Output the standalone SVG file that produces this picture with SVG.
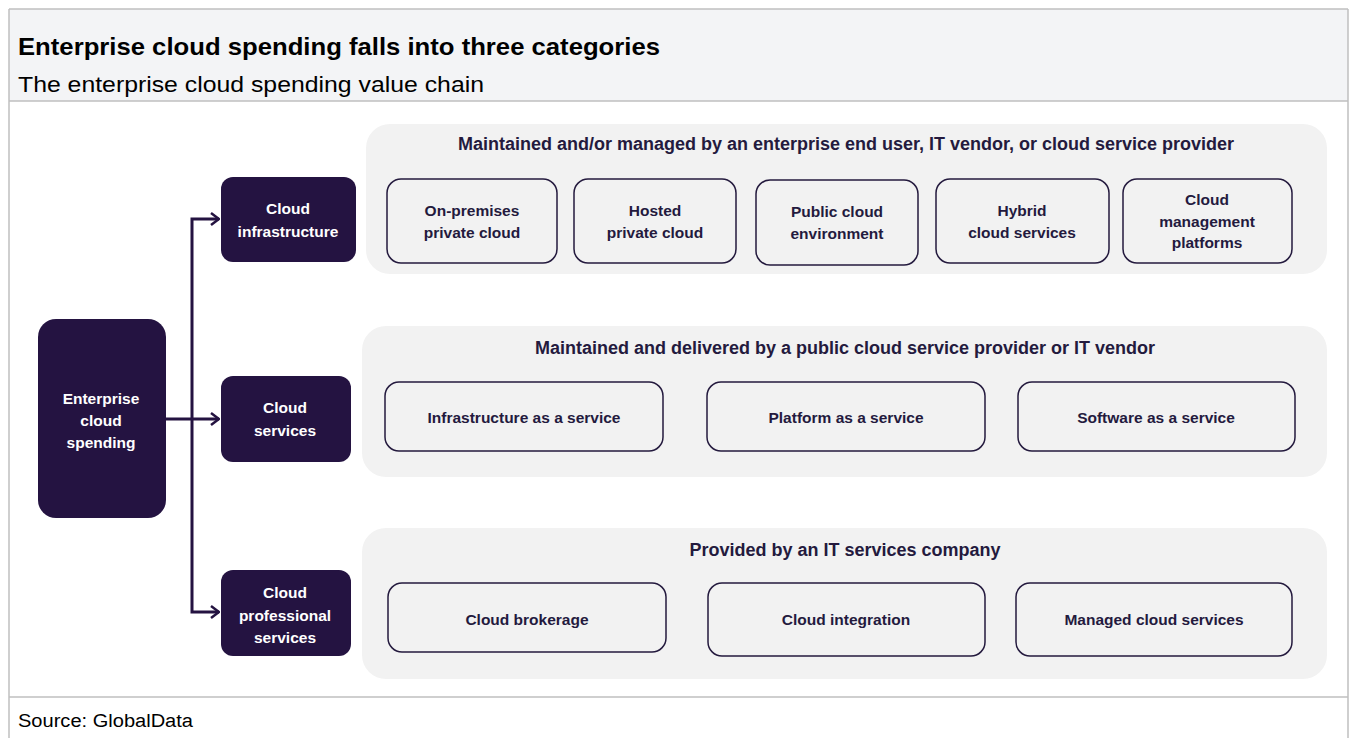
<svg xmlns="http://www.w3.org/2000/svg" width="1354" height="738" viewBox="0 0 1354 738">
<style>
.frame{fill:none;stroke:#bfbfbf;stroke-width:1.5}
.hdr{fill:#f3f4f6}
.title{font-family:"Liberation Sans",Arial,sans-serif;font-weight:bold;font-size:24px;fill:#000}
.sub{font-family:"Liberation Sans",Arial,sans-serif;font-size:22px;fill:#000}
.src{font-family:"Liberation Sans",Arial,sans-serif;font-size:18px;fill:#000}
.dark{fill:#241341}
.wt{font-family:"Liberation Sans",Arial,sans-serif;font-weight:bold;font-size:15.5px;fill:#fff;text-anchor:middle}
.panel{fill:#f2f2f2}
.ptitle{font-family:"Liberation Sans",Arial,sans-serif;font-weight:bold;font-size:18px;fill:#241a3e;text-anchor:middle}
.box{fill:#f2f2f2;stroke:#241a3e;stroke-width:1.5}
.bt{font-family:"Liberation Sans",Arial,sans-serif;font-weight:bold;font-size:15.5px;fill:#241a3e;text-anchor:middle}
.conn{fill:none;stroke:#241341;stroke-width:3}
</style>
<defs>
<marker id="arr" viewBox="0 0 10 14" refX="9" refY="7" markerWidth="10" markerHeight="14" markerUnits="userSpaceOnUse" orient="auto">
<path d="M1,1 L9,7 L1,13" fill="none" stroke="#241341" stroke-width="2.5"/>
</marker>
</defs>
<rect width="1354" height="738" fill="#fff"/>
<g id="header">
<rect class="hdr" x="9" y="9" width="1339" height="92"/>
<line class="frame" x1="9" y1="9" x2="1348" y2="9"/>
<line class="frame" x1="9" y1="101" x2="1348" y2="101"/>
<text class="title" x="18" y="55" textLength="642" lengthAdjust="spacingAndGlyphs">Enterprise cloud spending falls into three categories</text>
<text class="sub" x="18" y="92" textLength="466" lengthAdjust="spacingAndGlyphs">The enterprise cloud spending value chain</text>
</g>
<line class="frame" x1="9" y1="9" x2="9" y2="738"/>
<line class="frame" x1="1348" y1="9" x2="1348" y2="738"/>
<line class="frame" x1="9" y1="697" x2="1348" y2="697"/>
<text class="src" x="18" y="727" textLength="175" lengthAdjust="spacingAndGlyphs">Source: GlobalData</text>

<g id="panel1">
<rect class="panel" x="366" y="124" width="961" height="150" rx="24"/>
<text class="ptitle" x="846" y="150">Maintained and/or managed by an enterprise end user, IT vendor, or cloud service provider</text>
</g>
<g id="panel2">
<rect class="panel" x="362" y="326" width="965" height="151" rx="24"/>
<text class="ptitle" x="845" y="354">Maintained and delivered by a public cloud service provider or IT vendor</text>
</g>
<g id="panel3">
<rect class="panel" x="362" y="528" width="965" height="151" rx="24"/>
<text class="ptitle" x="845" y="556">Provided by an IT services company</text>
</g>

<g id="connectors">
<path class="conn" d="M166,419 H219" marker-end="url(#arr)"/>
<path class="conn" d="M192,419 V219 H219" marker-end="url(#arr)"/>
<path class="conn" d="M192,419 V612 H219" marker-end="url(#arr)"/>
</g>

<g id="n-enterprise">
<rect class="dark" x="38" y="319" width="128" height="199" rx="18"/>
<text class="wt" x="101" y="404">Enterprise</text>
<text class="wt" x="101" y="426">cloud</text>
<text class="wt" x="101" y="448">spending</text>
</g>
<g id="n-infra">
<rect class="dark" x="221" y="177" width="135" height="85" rx="12"/>
<text class="wt" x="288" y="214">Cloud</text>
<text class="wt" x="288" y="237">infrastructure</text>
</g>
<g id="n-services">
<rect class="dark" x="221" y="376" width="130" height="86" rx="12"/>
<text class="wt" x="285" y="413">Cloud</text>
<text class="wt" x="285" y="436">services</text>
</g>
<g id="n-prof">
<rect class="dark" x="221" y="570" width="130" height="86" rx="12"/>
<text class="wt" x="285" y="598">Cloud</text>
<text class="wt" x="285" y="621">professional</text>
<text class="wt" x="285" y="643">services</text>
</g>

<g id="b-onprem">
<rect class="box" x="387" y="179" width="170" height="84" rx="14"/>
<text class="bt" x="472" y="216">On-premises</text>
<text class="bt" x="472" y="238">private cloud</text>
</g>
<g id="b-hosted">
<rect class="box" x="574" y="179" width="162" height="84" rx="14"/>
<text class="bt" x="655" y="216">Hosted</text>
<text class="bt" x="655" y="238">private cloud</text>
</g>
<g id="b-public">
<rect class="box" x="756" y="180" width="162" height="85" rx="14"/>
<text class="bt" x="837" y="217">Public cloud</text>
<text class="bt" x="837" y="239">environment</text>
</g>
<g id="b-hybrid">
<rect class="box" x="936" y="179" width="173" height="84" rx="14"/>
<text class="bt" x="1022" y="216">Hybrid</text>
<text class="bt" x="1022" y="238">cloud services</text>
</g>
<g id="b-cmp">
<rect class="box" x="1123" y="179" width="169" height="84" rx="14"/>
<text class="bt" x="1207" y="205">Cloud</text>
<text class="bt" x="1207" y="227">management</text>
<text class="bt" x="1207" y="248">platforms</text>
</g>

<g id="b-iaas">
<rect class="box" x="385" y="382" width="278" height="69" rx="14"/>
<text class="bt" x="524" y="423">Infrastructure as a service</text>
</g>
<g id="b-paas">
<rect class="box" x="707" y="382" width="278" height="69" rx="14"/>
<text class="bt" x="846" y="423">Platform as a service</text>
</g>
<g id="b-saas">
<rect class="box" x="1018" y="382" width="277" height="69" rx="14"/>
<text class="bt" x="1156" y="423">Software as a service</text>
</g>

<g id="b-broker">
<rect class="box" x="388" y="583" width="278" height="69" rx="14"/>
<text class="bt" x="527" y="625">Cloud brokerage</text>
</g>
<g id="b-integ">
<rect class="box" x="708" y="583" width="277" height="73" rx="14"/>
<text class="bt" x="846" y="625">Cloud integration</text>
</g>
<g id="b-managed">
<rect class="box" x="1016" y="583" width="276" height="73" rx="14"/>
<text class="bt" x="1154" y="625">Managed cloud services</text>
</g>
</svg>
